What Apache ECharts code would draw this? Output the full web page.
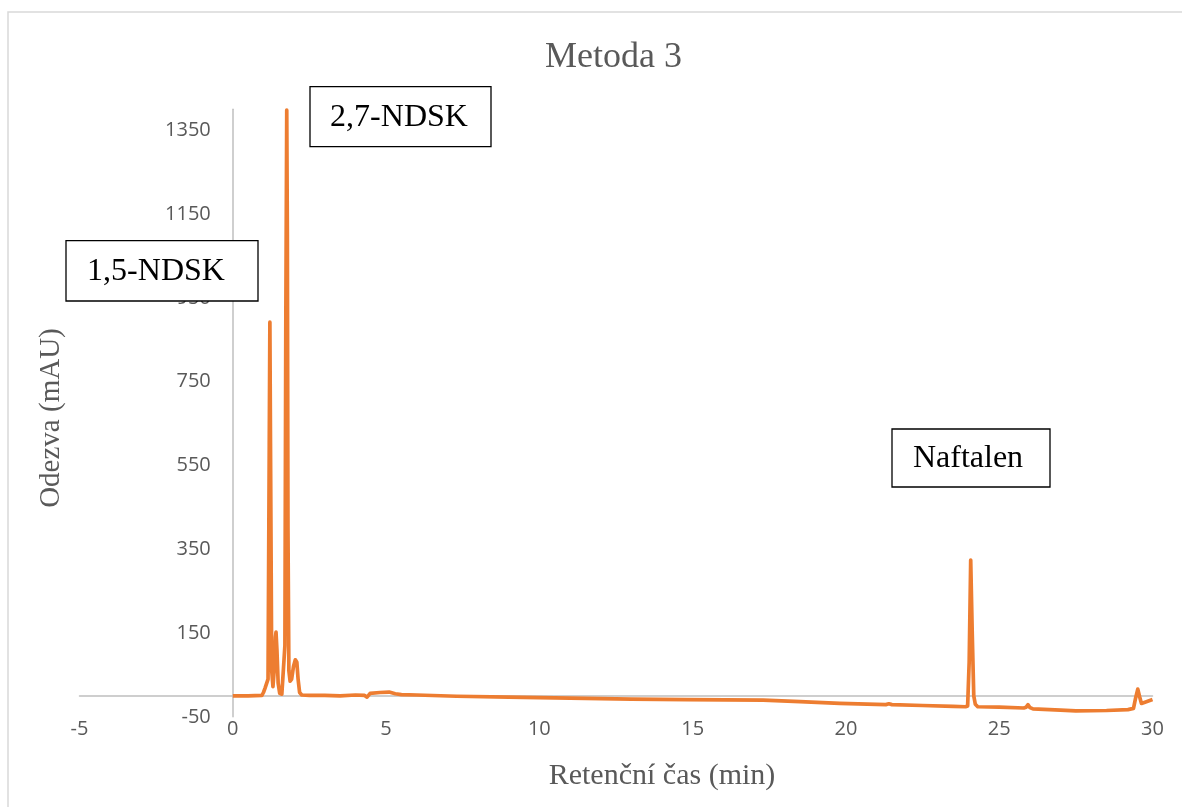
<!DOCTYPE html>
<html>
<head>
<meta charset="utf-8">
<script src="https://cdn.jsdelivr.net/npm/echarts@6/dist/echarts.min.js"></script>
<style>html,body{margin:0;padding:0;background:#fff}#chart{width:1182px;height:807px}</style>
</head>
<body>
<div id="chart"></div>
<script>
// ---- data ----
const retentionTimes = [0, 0.5, 0.95, 1.0, 1.05, 1.1, 1.15, 1.19, 1.21, 1.23, 1.27, 1.31, 1.35, 1.39, 1.41, 1.44, 1.48, 1.53, 1.6, 1.66, 1.7, 1.73, 1.76, 1.78, 1.8, 1.83, 1.87, 1.92, 1.98, 2.04, 2.09, 2.13, 2.18, 2.25, 2.5, 3.0, 3.5, 4.0, 4.3, 4.38, 4.48, 4.8, 5.1, 5.3, 5.5, 6.0, 7.3, 9.0, 11.0, 13.0, 14.8, 17.3, 18.5, 19.8, 21.3, 21.4, 21.5, 22.5, 23.5, 23.9, 23.97, 24.02, 24.07, 24.12, 24.17, 24.22, 24.3, 25.0, 25.8, 25.88, 25.94, 26.0, 26.1, 27.0, 27.5, 28.5, 29.2, 29.38, 29.45, 29.52, 29.58, 29.64, 29.8, 30.0];
const responses = [0, 0, 1, 8, 18, 20, 40, 600, 892, 600, 60, 22, 60, 140, 152, 110, 30, 6, 4, 8, 120, 900, 1398, 1100, 400, 60, 35, 40, 70, 86, 80, 40, 8, 2, 1, 1, 0, 2, 1, -3, 6, 8, 9, 5, 3, 2, -1, -3, -5.5, -8, -9, -10, -14, -18, -21, -19, -21, -23, -25, -26, -24, 80, 324, 150, 0, -20, -26, -27, -29, -27, -21, -28, -31, -34, -36, -35, -33, -30, -5, 16, -2, -18, -14, -9];
const xTicks = [-5, 0, 5, 10, 15, 20, 25, 30];
const yTicks = [-50, 150, 350, 550, 750, 950, 1150, 1350];
const yMax = 1400;
const peakNames = ['1,5-NDSK', '2,7-NDSK', 'Naftalen'];
const chartTitle = 'Metoda 3';
const xName = 'Retenční čas (min)';
const yName = 'Odezva (mAU)';

const seriesData = retentionTimes.map((t, i) => [t, responses[i]]);

const labelFont = '"Open Sans", "Liberation Sans", sans-serif';
const serifFont = '"Liberation Serif", "DejaVu Serif", serif';
const grey = '#595959';

const gridBox = { left: 79.5, top: 109.3, width: 1073, height: 607.5 };
const xMin = xTicks[0], xMax = xTicks[xTicks.length - 1];
// the vertical axis crosses the horizontal one at x = 0
const yAxisShift = (0 - xMin) / (xMax - xMin) * gridBox.width;

function box(name, x, y, w, h, tx) {
  return {
    type: 'group', x: x, y: y, z: 100,
    children: [
      { type: 'rect', shape: { x: 0, y: 0, width: w, height: h },
        style: { fill: '#fff', stroke: '#000', lineWidth: 1.3 }, z: 100 },
      { type: 'text', x: tx, y: h / 2 + 1, z: 101,
        style: { text: name, font: '32px ' + serifFont, fill: '#000',
                 align: 'center', verticalAlign: 'middle' } }
    ]
  };
}

const chart = echarts.init(document.getElementById('chart'), null, { renderer: 'canvas' });
chart.setOption({
  animation: false,
  backgroundColor: '#fff',
  title: {
    text: chartTitle, left: 545, top: 40, padding: 0,
    textStyle: { fontFamily: serifFont, fontSize: 36, fontWeight: 'normal', color: grey }
  },
  grid: Object.assign({ containLabel: false, outerBoundsMode: 'none' }, gridBox),
  xAxis: [{
    type: 'value', min: xMin, max: xMax, interval: xTicks[1] - xTicks[0],
    position: 'bottom',
    axisLine: { show: false, onZero: false },
    axisTick: { show: false }, splitLine: { show: false },
    axisLabel: { fontFamily: labelFont, fontSize: 20, color: grey, margin: 2 },
    name: xName, nameLocation: 'middle', nameGap: 44,
    nameTextStyle: { fontFamily: serifFont, fontSize: 30, color: grey, padding: [0, 0, 0, 92] }
  }, {
    type: 'value', min: xMin, max: xMax, interval: xTicks[1] - xTicks[0],
    position: 'top',
    axisLine: { show: true, onZero: true, lineStyle: { color: '#BFBFBF', width: 1.5 } },
    axisTick: { show: false }, splitLine: { show: false }, axisLabel: { show: false }
  }],
  yAxis: {
    type: 'value', min: yTicks[0], max: yMax, interval: yTicks[1] - yTicks[0],
    position: 'left', offset: -yAxisShift,
    axisLine: { show: true, onZero: false, lineStyle: { color: '#BFBFBF', width: 1.5 } },
    axisTick: { show: false }, splitLine: { show: false },
    axisLabel: { fontFamily: labelFont, fontSize: 20, color: grey, margin: 22, showMaxLabel: false,
      formatter: v => (yTicks.indexOf(v) >= 0 ? String(v) : '') },
    name: yName, nameLocation: 'middle', nameGap: 167,
    nameTextStyle: { fontFamily: serifFont, fontSize: 29, color: grey, padding: [0, 10, 0, 0] }
  },
  series: [{
    type: 'line', data: seriesData, xAxisIndex: 0, yAxisIndex: 0,
    showSymbol: false, symbol: 'none', smooth: false,
    lineStyle: { color: '#ED7D31', width: 3.7, join: 'round' },
    itemStyle: { color: '#ED7D31' }, z: 5
  }],
  graphic: [
    { type: 'rect', shape: { x: 8, y: 12, width: 1300, height: 900 },
      style: { fill: 'none', stroke: '#D9D9D9', lineWidth: 1.5 }, z: -1, silent: true },
    box(peakNames[0], 66, 240.7, 192, 60.3, 90),
    box(peakNames[1], 310, 86.7, 181, 60, 89),
    box(peakNames[2], 892, 429, 158, 58, 76)
  ]
});
</script>
</body>
</html>
